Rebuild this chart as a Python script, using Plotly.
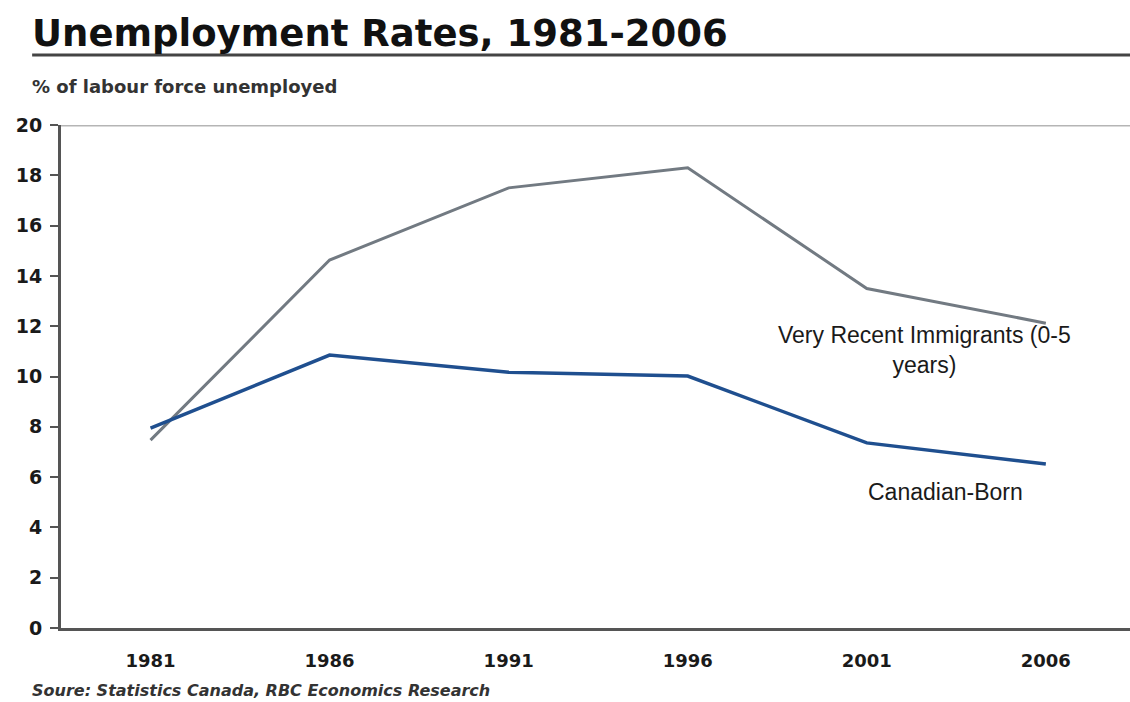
import plotly.graph_objects as go

years = ["1981", "1986", "1991", "1996", "2001", "2006"]
immigrants = [7.47, 14.63, 17.5, 18.3, 13.5, 12.12]
canadian_born = [7.95, 10.85, 10.17, 10.02, 7.36, 6.52]
y_ticks = [0, 2, 4, 6, 8, 10, 12, 14, 16, 18, 20]

fig = go.Figure()
fig.add_trace(go.Scatter(x=years, y=immigrants, mode="lines",
                         line=dict(color="#727a82", width=3), name="Very Recent Immigrants (0-5 years)"))
fig.add_trace(go.Scatter(x=years, y=canadian_born, mode="lines",
                         line=dict(color="#1f4f8f", width=3.5), name="Canadian-Born"))

fig.update_layout(
    width=1130, height=702,
    margin=dict(l=61, r=0, t=125, b=74),
    paper_bgcolor="white", plot_bgcolor="white",
    showlegend=False,
    font=dict(family="DejaVu Sans", color="#1a1a1a"),
    xaxis=dict(type="category", range=[-0.5, 5.47], showgrid=False, showline=True,
               linecolor="#555555", linewidth=3, ticks="", ticklen=0,
               tickfont=dict(family="DejaVu Sans", size=18, color="#1a1a1a", weight="bold"),
               ticklabelstandoff=14, fixedrange=True),
    yaxis=dict(range=[0, 20], tickvals=y_ticks, showgrid=False, showline=True,
               linecolor="#555555", linewidth=3, ticks="outside", ticklen=8, tickwidth=2,
               tickcolor="#555555", zeroline=False, ticklabelstandoff=4,
               tickfont=dict(family="DejaVu Sans", size=19, color="#1a1a1a", weight="bold"),
               fixedrange=True),
)

# top reference line at 20
fig.add_shape(type="line", xref="paper", yref="y", x0=0, x1=1, y0=20, y1=20,
              line=dict(color="#b5b5b5", width=3), layer="below")
# title underline
fig.add_shape(type="line", xref="paper", yref="paper", x0=-0.027, x1=1.0, y0=1.139, y1=1.139,
              line=dict(color="#444444", width=3))

fig.add_annotation(text="<b>Unemployment Rates, 1981-2006</b>", xref="paper", yref="paper",
                   x=-0.029, y=1.136, xanchor="left", yanchor="bottom", showarrow=False,
                   font=dict(family="DejaVu Sans", size=37, color="#111111"))
fig.add_annotation(text="<b>% of labour force unemployed</b>", xref="paper", yref="paper",
                   x=-0.029, y=1.077, xanchor="left", yanchor="middle", showarrow=False,
                   font=dict(family="DejaVu Sans", size=18, color="#333333"))
fig.add_annotation(text="<b><i>Soure: Statistics Canada, RBC Economics Research</i></b>", xref="paper",
                   yref="paper", x=-0.029, y=-0.124, xanchor="left", yanchor="middle", showarrow=False,
                   font=dict(family="DejaVu Sans", size=16, color="#333333"))
fig.add_annotation(text="Very Recent Immigrants (0-5<br>years)", x=4.32, y=12.25, xref="x", yref="y",
                   showarrow=False, align="center", yanchor="top",
                   font=dict(family="Liberation Sans", size=23, color="#1a1a1a"))
fig.add_annotation(text="Canadian-Born", x=4.44, y=5.4, xref="x", yref="y", showarrow=False,
                   font=dict(family="Liberation Sans", size=23, color="#1a1a1a"))

fig.write_html("out.html", config={"displayModeBar": False},
               post_script="document.body.style.margin='0';document.body.style.overflow='hidden';")
